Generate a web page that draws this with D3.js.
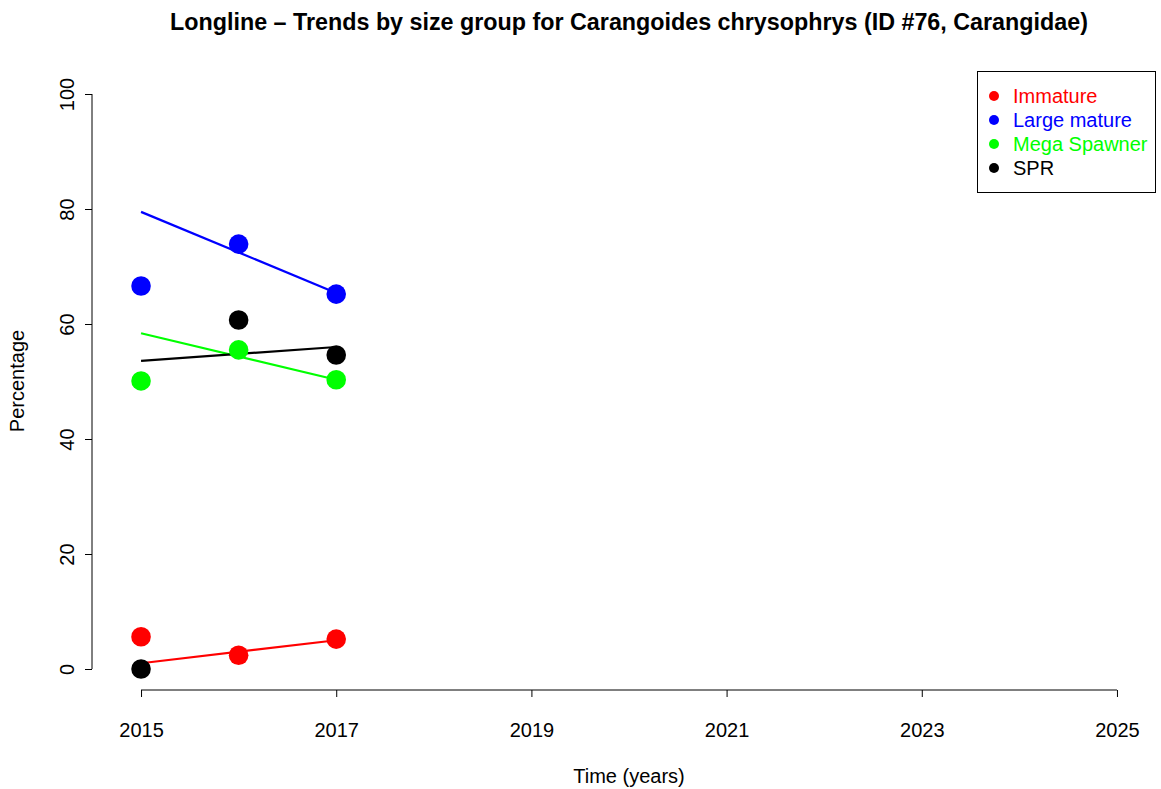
<!DOCTYPE html>
<html><head><meta charset="utf-8">
<script src="https://cdn.jsdelivr.net/npm/d3@7"></script>
<style>body{margin:0;background:#fff}svg{display:block}text{font-family:"Liberation Sans",Arial,sans-serif}</style>
</head><body>
<script>
const years = [2015, 2016, 2017];
const seriesNames = ["Immature", "Large mature", "Mega Spawner", "SPR"];
const seriesColors = ["#ff0000", "#0000ff", "#00ff00", "#000000"];
const immature = [5.6, 2.4, 5.2];
const largeMature = [66.6, 73.9, 65.2];
const megaSpawner = [50.1, 55.5, 50.3];
const spr = [0.0, 60.7, 54.6];
const trendStart = [1.0, 79.5, 58.4, 53.6];
const trendEnd = [5.0, 65.4, 50.3, 56.0];
const xTicks = [2015, 2017, 2019, 2021, 2023, 2025];
const yTicks = [0, 20, 40, 60, 80, 100];

const values = [immature, largeMature, megaSpawner, spr];
const W = 1161, H = 789;
const FONT = '"Liberation Sans",Arial,sans-serif';
const svg = d3.select("body").append("svg").attr("width", W).attr("height", H);

const x = d3.scaleLinear().domain([2014.6, 2025.4]).range([102, 1156]);
const y = d3.scaleLinear().domain([-4, 104]).range([692, 71]);

// title
svg.append("text").attr("x", 629).attr("y", 30).attr("text-anchor", "middle")
  .style("font-weight", "bold").style("font-size", "23.3px")
  .text("Longline \u2013 Trends by size group for Carangoides chrysophrys (ID #76, Carangidae)");

// axes
const xAxis = svg.append("g").attr("transform", "translate(0,690)")
  .call(d3.axisBottom(x).tickValues(xTicks).tickFormat(d3.format("d")).tickSize(7).tickPadding(25.8));
xAxis.select(".domain").attr("d", `M${x(2015)},0H${x(2025)}`);
const yAxis = svg.append("g").attr("transform", "translate(92,0)")
  .call(d3.axisLeft(y).tickValues(yTicks).tickSize(7).tickPadding(0));
yAxis.select(".domain").attr("d", `M0,${y(0)}V${y(100)}`);
[xAxis, yAxis].forEach(g => {
  g.selectAll("text").style("font-size", "20px").attr("fill", "#000").style("font-family", FONT);
  g.selectAll("line,path").attr("stroke", "#000");
});
yAxis.selectAll(".tick text").attr("transform", "rotate(-90)").attr("x", 0).attr("y", -18)
  .attr("dy", "0").attr("text-anchor", "middle");

svg.append("text").attr("x", 629).attr("y", 783).attr("text-anchor", "middle")
  .style("font-size", "20px").text("Time (years)");
svg.append("text").attr("transform", "translate(24,381) rotate(-90)").attr("text-anchor", "middle")
  .style("font-size", "20px").text("Percentage");

// trend lines
seriesNames.forEach((n, i) => {
  svg.append("line")
    .attr("x1", x(years[0])).attr("y1", y(trendStart[i]))
    .attr("x2", x(years[years.length - 1])).attr("y2", y(trendEnd[i]))
    .attr("stroke", seriesColors[i]).attr("stroke-width", 2.2);
});
// points
seriesNames.forEach((n, i) => {
  svg.append("g").selectAll("circle").data(values[i]).join("circle")
    .attr("cx", (d, j) => x(years[j])).attr("cy", d => y(d)).attr("r", 9.8)
    .attr("fill", seriesColors[i]);
});

// legend
const lg = svg.append("g");
lg.append("rect").attr("x", 977.5).attr("y", 71.5).attr("width", 178).attr("height", 121)
  .attr("fill", "#fff").attr("stroke", "#000");
seriesNames.forEach((n, i) => {
  const yy = 96 + i * 24;
  lg.append("circle").attr("cx", 994).attr("cy", yy).attr("r", 5).attr("fill", seriesColors[i]);
  lg.append("text").attr("x", 1013).attr("y", yy + 7).style("font-size", "20px")
    .attr("fill", seriesColors[i]).text(n);
});
</script>
</body></html>
